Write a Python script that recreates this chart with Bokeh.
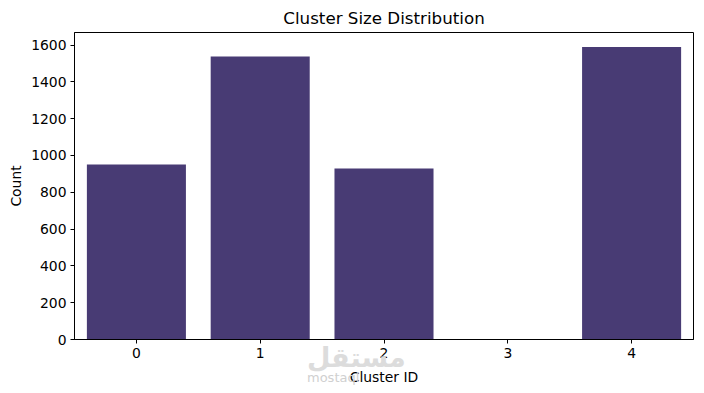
from bokeh.plotting import figure
from bokeh.models import Range1d, FixedTicker, Div
from bokeh.layouts import column
from bokeh.embed import file_html
from bokeh.resources import INLINE

cluster_ids = ["0", "1", "2", "3", "4"]
counts = [951, 1538, 929, 0, 1589]
y_ticks = [0, 200, 400, 600, 800, 1000, 1200, 1400, 1600]

FONT = "DejaVu Sans"
BAR = "#483b74"

p = figure(frame_width=619, frame_height=307, x_range=cluster_ids, y_range=Range1d(0, 1668),
           output_backend="svg", toolbar_location=None,
           title="Cluster Size Distribution", margin=(0, 0, 0, 5))

p.x_range.range_padding = 0
p.vbar(x=cluster_ids, top=counts, width=0.8, color=BAR, line_color=None)

p.title.align = "center"
p.title.text_font = FONT
p.title.text_font_size = "16.7px"
p.title.text_font_style = "normal"
p.title.text_color = "black"

p.xgrid.visible = False
p.ygrid.visible = False
p.outline_line_color = "black"
p.outline_line_width = 1
p.outline_line_alpha = 1

p.yaxis.ticker = FixedTicker(ticks=y_ticks)
for ax in (p.xaxis[0], p.yaxis[0]):
    ax.axis_line_color = "black"
    ax.major_tick_line_color = "black"
    ax.major_tick_out = 4
    ax.major_tick_in = 0
    ax.minor_tick_line_color = None
    ax.major_label_text_font = FONT
    ax.major_label_text_font_size = "13.9px"
    ax.major_label_text_color = "black"
    ax.axis_label_text_font = FONT
    ax.axis_label_text_font_size = "13.9px"
    ax.axis_label_text_font_style = "normal"
    ax.axis_label_text_color = "black"
    ax.major_label_standoff = 4

p.xaxis.axis_label = "Cluster ID"
p.yaxis.axis_label = "Count"
p.xaxis.axis_label_standoff = 8
p.yaxis.axis_label_standoff = 4

watermark = Div(
    text=('<div style="font-family:\'DejaVu Sans\';line-height:1;">'
          '<div style="font-size:27px;font-weight:bold;color:#dcdcdc;padding-top:2px;">مستقل</div>'
          '<div style="font-size:13px;color:#d0d0d0;">mostaql</div></div>'),
    width=100, height=45, margin=(-45, 0, 0, 307))

layout = column(p, watermark, spacing=0)
open("out.html", "w").write(file_html(layout, INLINE))
